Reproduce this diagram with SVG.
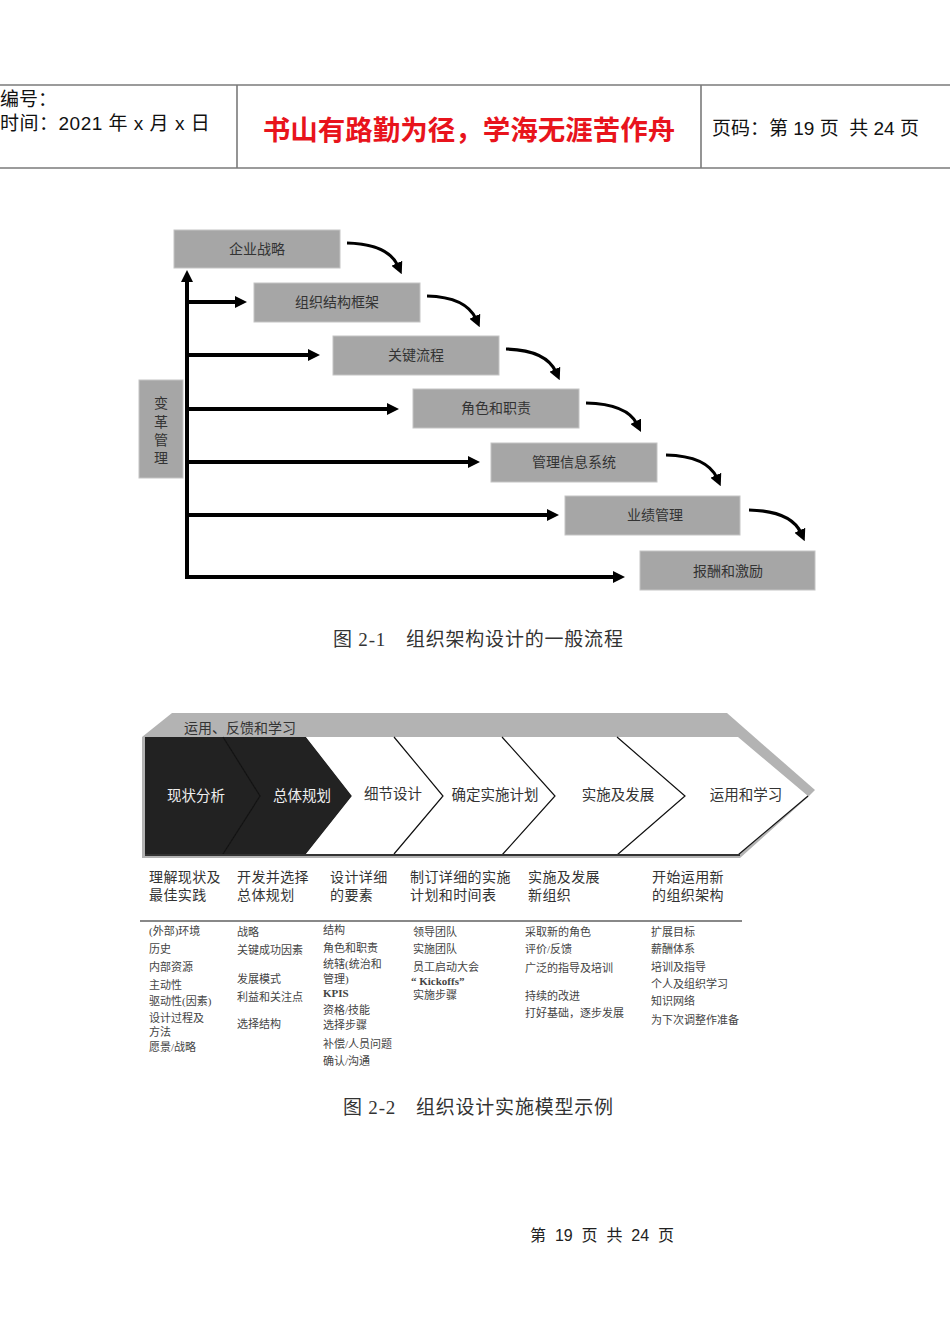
<svg xmlns="http://www.w3.org/2000/svg" width="950" height="1344" viewBox="0 0 950 1344">
<style>
.hl{stroke:#7a7a7a;stroke-width:1.6;fill:none}
.ht{font-family:'Liberation Sans','Noto Sans CJK SC',sans-serif;font-size:19px;fill:#111;white-space:pre}
.red{font-family:'Noto Sans CJK SC',sans-serif;font-size:27.5px;fill:#e8141c;font-weight:bold}
.box{fill:#a6a6a6;stroke:#c4c4c4;stroke-width:1}
.bt{font-family:'Noto Sans CJK SC',sans-serif;font-size:14px;fill:#333;text-anchor:middle}
.ln{stroke:#000;stroke-width:4;fill:none}
.cv{stroke:#000;stroke-width:3.2;fill:none}
.cap{font-family:'Liberation Serif','Noto Sans CJK SC',serif;font-size:19px;fill:#333;letter-spacing:0.8px}
.ct{font-family:'Noto Sans CJK SC',sans-serif;font-size:14.5px;text-anchor:middle}
.hd{font-family:'Noto Sans CJK SC',sans-serif;font-size:14px;fill:#333}
.it{font-family:'Liberation Serif','Noto Sans CJK SC',serif;font-size:11px;fill:#444}
.edge{stroke:#111;stroke-width:1.2;fill:none}
</style>
<defs>
<marker id="ah" viewBox="0 0 12 12" refX="3" refY="6" markerWidth="12" markerHeight="12" markerUnits="userSpaceOnUse" orient="auto"><path d="M0,0 L12,6 L0,12 z" fill="#000"/></marker>
</defs>
<g id="header">
<line class="hl" x1="0" y1="85" x2="950" y2="85"/>
<line class="hl" x1="0" y1="168" x2="950" y2="168"/>
<line class="hl" x1="237" y1="85" x2="237" y2="168"/>
<line class="hl" x1="701" y1="85" x2="701" y2="168"/>
<text class="ht" x="0" y="106">编号：</text>
<text class="ht" x="0" y="130" letter-spacing="0.5">时间：2021 年 x 月 x 日</text>
<text class="red" x="469" y="140" text-anchor="middle">书山有路勤为径，学海无涯苦作舟</text>
<text class="ht" x="712" y="135">页码：第 19 页  共 24 页</text>
</g>
<g id="connectors1">
<line class="ln" x1="187" y1="579" x2="187" y2="279" marker-end="url(#ah)"/>
<line class="ln" x1="185" y1="302" x2="238" y2="302" marker-end="url(#ah)"/>
<line class="ln" x1="185" y1="355" x2="311" y2="355" marker-end="url(#ah)"/>
<line class="ln" x1="185" y1="409" x2="390" y2="409" marker-end="url(#ah)"/>
<line class="ln" x1="185" y1="462" x2="471" y2="462" marker-end="url(#ah)"/>
<line class="ln" x1="185" y1="515" x2="550" y2="515" marker-end="url(#ah)"/>
<line class="ln" x1="185" y1="577" x2="616" y2="577" marker-end="url(#ah)"/>
<path class="cv" d="M347,243 Q388,244 398,266" marker-end="url(#ah)"/>
<path class="cv" d="M427,296 Q466,297 476,319" marker-end="url(#ah)"/>
<path class="cv" d="M506,349 Q546,350 556,372" marker-end="url(#ah)"/>
<path class="cv" d="M586,403 Q627,404 637,424" marker-end="url(#ah)"/>
<path class="cv" d="M666,455 Q707,456 717,478" marker-end="url(#ah)"/>
<path class="cv" d="M749,510 Q791,511 801,533" marker-end="url(#ah)"/>
</g>
<g id="n1"><rect class="box" x="174" y="230" width="166" height="38"/><text class="bt" x="257" y="254">企业战略</text></g>
<g id="n2"><rect class="box" x="254" y="283" width="166" height="39"/><text class="bt" x="337" y="307">组织结构框架</text></g>
<g id="n3"><rect class="box" x="333" y="336" width="166" height="39"/><text class="bt" x="416" y="360">关键流程</text></g>
<g id="n4"><rect class="box" x="413" y="389" width="166" height="39"/><text class="bt" x="496" y="413">角色和职责</text></g>
<g id="n5"><rect class="box" x="491" y="443" width="166" height="39"/><text class="bt" x="574" y="467">管理信息系统</text></g>
<g id="n6"><rect class="box" x="565" y="496" width="175" height="39"/><text class="bt" x="655" y="520">业绩管理</text></g>
<g id="n7"><rect class="box" x="640" y="551" width="175" height="39"/><text class="bt" x="728" y="576">报酬和激励</text></g>
<g id="n0"><rect class="box" x="139" y="380" width="44" height="98"/>
<text class="bt" x="161" y="408">变</text><text class="bt" x="161" y="427">革</text><text class="bt" x="161" y="445">管</text><text class="bt" x="161" y="463">理</text></g>
<text class="cap" x="333" y="646">图 2-1　组织架构设计的一般流程</text>

<g id="band">
<polygon points="142,737 172,713 727,713 815,790 808,797 740,858 142,858" fill="#b3b3b3"/>
<text x="184" y="733" font-family="'Noto Sans CJK SC',sans-serif" font-size="14" fill="#333">运用、反馈和学习</text>
</g>
<g id="c1"><polygon points="145,737 223,737 260,796 223,854 145,854" fill="#222"/><text class="ct" x="196" y="801" fill="#eee">现状分析</text></g>
<g id="c2"><polygon points="223,737 306,737 352,796 306,854 223,854 260,796" fill="#222"/><polyline class="edge" points="223,737 260,796 223,854" stroke="#000"/><text class="ct" x="302" y="801" fill="#eee">总体规划</text></g>
<g id="c3"><polygon points="306,737 394,737 443,796 394,854 306,854 352,796" fill="#fff"/><text class="ct" x="393" y="799" fill="#333">细节设计</text></g>
<g id="c4"><polygon points="394,737 502,737 555,796 502,855 394,854 443,796" fill="#fff"/><polyline class="edge" points="394,737 443,796 394,854"/><text class="ct" x="495" y="800" fill="#333">确定实施计划</text></g>
<g id="c5"><polygon points="502,737 617,737 685,796 617,855 502,855 555,796" fill="#fff"/><polyline class="edge" points="502,737 555,796 502,855"/><text class="ct" x="618" y="800" fill="#333">实施及发展</text></g>
<g id="c6"><polygon points="617,737 738,737 808,796 738,855 617,855 685,796" fill="#fff"/><polyline class="edge" points="617,737 685,796 617,855"/><polyline class="edge" points="808,796 738,855"/><text class="ct" x="746" y="800" fill="#333">运用和学习</text></g>
<line x1="145" y1="855" x2="740" y2="855" stroke="#333" stroke-width="2"/>

<g id="cols">
<text class="hd" x="149" y="882" letter-spacing="0.4">理解现状及</text><text class="hd" x="149" y="900" letter-spacing="0.4">最佳实践</text>
<text class="hd" x="237" y="882" letter-spacing="0.4">开发并选择</text><text class="hd" x="237" y="900" letter-spacing="0.4">总体规划</text>
<text class="hd" x="330" y="882" letter-spacing="0.4">设计详细</text><text class="hd" x="330" y="900" letter-spacing="0.4">的要素</text>
<text class="hd" x="410" y="882" letter-spacing="0.4">制订详细的实施</text><text class="hd" x="410" y="900" letter-spacing="0.4">计划和时间表</text>
<text class="hd" x="528" y="882" letter-spacing="0.4">实施及发展</text><text class="hd" x="528" y="900" letter-spacing="0.4">新组织</text>
<text class="hd" x="652" y="882" letter-spacing="0.4">开始运用新</text><text class="hd" x="652" y="900" letter-spacing="0.4">的组织架构</text>
<line x1="140" y1="921" x2="742" y2="921" stroke="#888" stroke-width="2"/>
</g>
<g id="items">
<text class="it" x="149" y="935">(外部)环境</text>
<text class="it" x="149" y="953">历史</text>
<text class="it" x="149" y="971">内部资源</text>
<text class="it" x="149" y="989">主动性</text>
<text class="it" x="149" y="1005">驱动性(因素)</text>
<text class="it" x="149" y="1022">设计过程及</text>
<text class="it" x="149" y="1036">方法</text>
<text class="it" x="149" y="1051">愿景/战略</text>

<text class="it" x="237" y="936">战略</text>
<text class="it" x="237" y="954">关键成功因素</text>
<text class="it" x="237" y="983">发展模式</text>
<text class="it" x="237" y="1001">利益和关注点</text>
<text class="it" x="237" y="1028">选择结构</text>

<text class="it" x="323" y="934">结构</text>
<text class="it" x="323" y="952">角色和职责</text>
<text class="it" x="323" y="968">统辖(统治和</text>
<text class="it" x="323" y="983">管理)</text>
<text class="it" x="323" y="997" font-weight="bold">KPIS</text>
<text class="it" x="323" y="1014">资格/技能</text>
<text class="it" x="323" y="1029">选择步骤</text>
<text class="it" x="323" y="1048">补偿/人员问题</text>
<text class="it" x="323" y="1065">确认/沟通</text>

<text class="it" x="413" y="936">领导团队</text>
<text class="it" x="413" y="953">实施团队</text>
<text class="it" x="413" y="971">员工启动大会</text>
<text class="it" x="411" y="985" font-weight="bold">“ Kickoffs”</text>
<text class="it" x="413" y="999">实施步骤</text>

<text class="it" x="525" y="936">采取新的角色</text>
<text class="it" x="525" y="953">评价/反馈</text>
<text class="it" x="525" y="972">广泛的指导及培训</text>
<text class="it" x="525" y="1000">持续的改进</text>
<text class="it" x="525" y="1017">打好基础，逐步发展</text>

<text class="it" x="651" y="936">扩展目标</text>
<text class="it" x="651" y="953">薪酬体系</text>
<text class="it" x="651" y="971">培训及指导</text>
<text class="it" x="651" y="988">个人及组织学习</text>
<text class="it" x="651" y="1005">知识网络</text>
<text class="it" x="651" y="1024">为下次调整作准备</text>
</g>
<text class="cap" x="343" y="1114">图 2-2　组织设计实施模型示例</text>
<text x="530" y="1241" font-family="'Liberation Sans','Noto Sans CJK SC',sans-serif" font-size="16" fill="#222" style="white-space:pre">第  19  页  共  24  页</text>
</svg>
